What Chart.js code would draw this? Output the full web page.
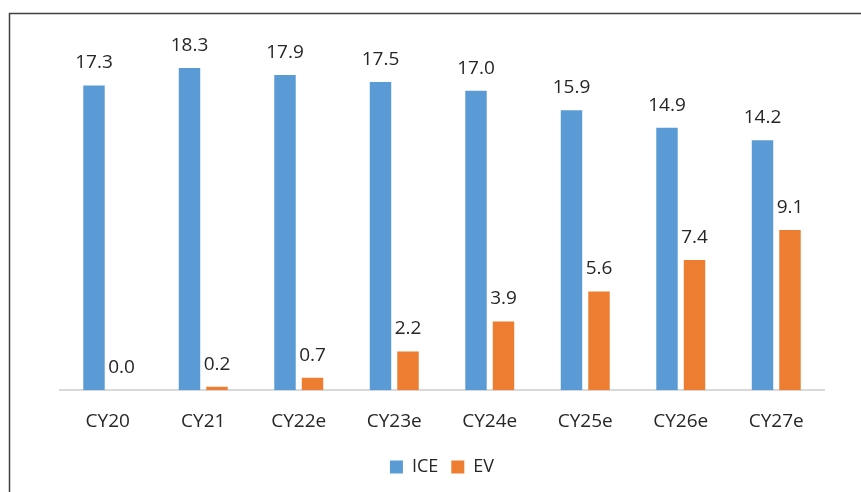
<!DOCTYPE html>
<html>
<head>
<meta charset="utf-8">
<script src="https://cdn.jsdelivr.net/npm/chart.js@4.4.0/dist/chart.umd.min.js"></script>
<style>
  html, body { margin: 0; padding: 0; background: #fff; }
  #wrap { width: 861px; height: 492px; position: relative; }
</style>
</head>
<body>
<div id="wrap"><canvas id="evChart" width="861" height="492"></canvas></div>
<script>
const categories = ['CY20', 'CY21', 'CY22e', 'CY23e', 'CY24e', 'CY25e', 'CY26e', 'CY27e'];
const iceValues = [17.3, 18.3, 17.9, 17.5, 17.0, 15.9, 14.9, 14.2];
const evValues = [0.0, 0.2, 0.7, 2.2, 3.9, 5.6, 7.4, 9.1];

const FONT = '"Open Sans", sans-serif';

// value labels above each bar
const barLabels = {
    id: 'barLabels',
    afterDatasetsDraw(chart) {
        const ctx = chart.ctx;
        ctx.save();
        ctx.font = '19px ' + FONT;
        ctx.fillStyle = '#262626';
        ctx.textAlign = 'center';
        ctx.textBaseline = 'bottom';
        chart.data.datasets.forEach((ds, i) => {
            chart.getDatasetMeta(i).data.forEach((bar, j) => {
                ctx.fillText(ds.data[j].toFixed(1), bar.x, bar.y - 13);
            });
        });
        ctx.restore();
    }
};

// outer frame (only top & left edges visible in the crop)
const frame = {
    id: 'frame',
    beforeDraw(chart) {
        const ctx = chart.ctx;
        ctx.save();
        ctx.strokeStyle = '#404040';
        ctx.lineWidth = 1.5;
        ctx.beginPath();
        ctx.moveTo(9.5, 492);
        ctx.lineTo(9.5, 13.5);
        ctx.lineTo(861, 13.5);
        ctx.stroke();
        ctx.restore();
    }
};

new Chart(document.getElementById('evChart').getContext('2d'), {
    type: 'bar',
    data: {
        labels: categories,
        datasets: [
            { label: 'ICE', data: iceValues, backgroundColor: '#5B9BD5' },
            { label: 'EV', data: evValues, backgroundColor: '#ED7D31' }
        ]
    },
    options: {
        responsive: false,
        animation: false,
        layout: { padding: { left: 60, right: 37, top: 38, bottom: 6 } },
        datasets: { bar: { categoryPercentage: 0.576, barPercentage: 0.78 } },
        scales: {
            x: {
                grid: { display: false },
                border: { display: true, color: '#d9d9d9', width: 2 },
                ticks: { color: '#262626', font: { family: FONT, size: 19 }, padding: 12 }
            },
            y: { display: false, min: 0, max: 20 }
        },
        plugins: {
            legend: {
                position: 'bottom',
                labels: {
                    boxWidth: 13, boxHeight: 13, padding: 13,
                    color: '#262626', font: { family: FONT, size: 18 }
                }
            },
            tooltip: { enabled: false }
        }
    },
    plugins: [frame, barLabels]
});
</script>
</body>
</html>
